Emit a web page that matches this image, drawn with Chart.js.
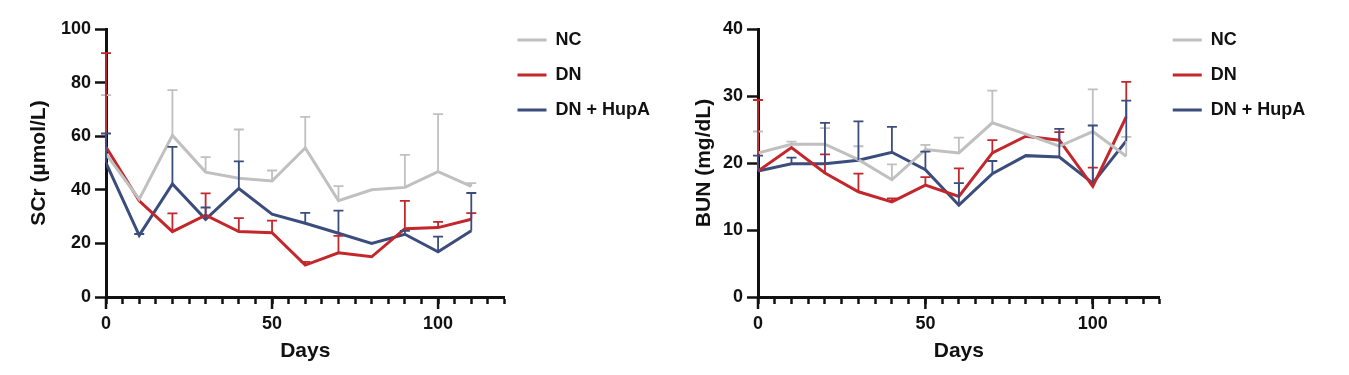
<!DOCTYPE html>
<html>
<head>
<meta charset="utf-8">
<script src="https://cdn.jsdelivr.net/npm/chart.js@4.4.1/dist/chart.umd.min.js"></script>
<style>
  html, body { margin: 0; padding: 0; background: #fff; }
  #wrap { position: relative; width: 1349px; height: 375px; }
  .box { position: absolute; top: 0; height: 375px; }
  #scrBox { left: 0; width: 680px; }
  #bunBox { left: 680px; width: 669px; }
</style>
</head>
<body>
<div id="wrap">
  <div class="box" id="scrBox"><canvas id="scrChart"></canvas></div>
  <div class="box" id="bunBox"><canvas id="bunChart"></canvas></div>
</div>
<script>
const days = [0, 10, 20, 30, 40, 50, 60, 70, 80, 90, 100, 110];
const majorDays = [0, 50, 100];
const groups = ['NC', 'DN', 'DN + HupA'];
const colors = ['#c0c0c0', '#c3272c', '#3b4d7d'];

// SCr (µmol/L): mean and upper error
const scrNC = [53.4, 36.5, 60.3, 46.6, 44.3, 43.3, 55.6, 35.9, 40, 40.9, 46.8, 41.3];
const scrNCerr = [21.9, 0, 16.9, 5.6, 18.2, 3.9, 11.6, 5.5, 0, 12.1, 21.4, 1.2];
const scrDN = [56, 35.9, 24.4, 30.5, 24.4, 24, 11.9, 16.5, 15, 25.5, 25.9, 29];
const scrDNerr = [35, 0, 6.8, 8.2, 5, 4.5, 1.2, 6.3, 0, 10.4, 2.1, 2.3];
const scrHup = [50, 23, 42.2, 29, 40.5, 30.9, 27.5, 23.8, 20, 23.4, 16.9, 24.7];
const scrHupErr = [11, 0.5, 13.8, 4.4, 10.1, 0, 3.9, 8.4, 0, 1.3, 5.6, 14.1];

// BUN (mg/dL): mean and upper error
const bunNC = [21.5, 22.8, 22.8, 20.5, 17.5, 22, 21.5, 26, 24.3, 22.5, 24.7, 21];
const bunNCerr = [3.2, 0.4, 2.4, 2, 2.3, 0.7, 2.3, 4.8, 0, 0, 6.3, 2.9];
const bunDN = [18.8, 22.3, 18.5, 15.7, 14.2, 16.7, 15, 21.5, 24, 23.4, 16.5, 26.9];
const bunDNerr = [10.6, 0, 2.8, 2.7, 0.5, 1.2, 4.2, 1.9, 0, 1.2, 2.8, 5.2];
const bunHup = [18.8, 19.9, 19.9, 20.4, 21.6, 19, 13.7, 18.4, 21.1, 20.9, 17, 23.3];
const bunHupErr = [2.3, 0.9, 6.1, 5.8, 3.8, 2.7, 3.3, 1.9, 0, 4.2, 8.6, 6];

Chart.defaults.font.family = "'Liberation Sans', Arial, sans-serif";
Chart.defaults.color = '#111';

// upper error bars with caps
const errorBars = {
  id: 'errorBars',
  afterDatasetsDraw(chart) {
    const ctx = chart.ctx;
    const y = chart.scales.y;
    chart.data.datasets.forEach((ds, i) => {
      const meta = chart.getDatasetMeta(i);
      ctx.save();
      ctx.strokeStyle = ds.borderColor;
      ctx.lineWidth = 1.8;
      meta.data.forEach((pt, j) => {
        const err = ds.errors[j];
        if (!err) return;
        const top = y.getPixelForValue(ds.data[j].y + err);
        ctx.beginPath();
        ctx.moveTo(pt.x, pt.y);
        ctx.lineTo(pt.x, top);
        ctx.moveTo(pt.x - 5, top);
        ctx.lineTo(pt.x + 5, top);
        ctx.stroke();
      });
      ctx.restore();
    });
  }
};

// longer ticks at labelled days
const majorTicks = {
  id: 'majorTicks',
  afterDraw(chart) {
    const {ctx, chartArea, scales: {x}} = chart;
    ctx.save();
    ctx.strokeStyle = '#111';
    ctx.lineWidth = 2.5;
    majorDays.forEach(d => {
      const px = x.getPixelForValue(d);
      ctx.beginPath();
      ctx.moveTo(px, chartArea.bottom);
      ctx.lineTo(px, chartArea.bottom + 12);
      ctx.stroke();
    });
    ctx.restore();
  }
};

// pull the legend up beside the top of the plot
const legendNudge = {
  id: 'legendNudge',
  afterLayout(chart) {
    const l = chart.legend;
    l.top -= 15; l.bottom -= 15;
    l.left -= 4; l.right -= 4;
  }
};

function makeChart(id, series, errs, yMax, yStep, yTitle, yWidth, pad) {
  return new Chart(document.getElementById(id), {
    type: 'line',
    data: {
      datasets: groups.map((g, i) => ({
        label: g,
        data: days.map((d, j) => ({x: d, y: series[i][j]})),
        errors: errs[i],
        borderColor: colors[i],
        backgroundColor: colors[i],
        borderWidth: 3,
        pointRadius: 0,
        tension: 0,
        fill: false
      }))
    },
    options: {
      responsive: true,
      maintainAspectRatio: false,
      animation: false,
      layout: { padding: pad },
      plugins: {
        legend: {
          position: 'right',
          align: 'start',
          labels: {
            usePointStyle: true,
            pointStyle: 'line',
            pointStyleWidth: 29,
            padding: 17,
            color: '#111',
            font: { size: 18, weight: 'bold' }
          }
        },
        tooltip: { enabled: false }
      },
      scales: {
        x: {
          type: 'linear',
          min: 0,
          max: 120,
          afterFit: s => { s.height = 71; },
          border: { color: '#111', width: 3 },
          grid: { drawOnChartArea: false, tickLength: 7, tickWidth: 2.5, tickColor: '#111' },
          ticks: {
            stepSize: 5,
            autoSkip: false,
            maxRotation: 0,
            padding: 9,
            color: '#111',
            font: { size: 18, weight: 'bold' },
            callback: v => majorDays.includes(v) ? v : ''
          },
          title: { display: true, text: 'Days', color: '#111', font: { size: 21, weight: 'bold' }, padding: { top: 4, bottom: 4 } }
        },
        y: {
          min: 0,
          max: yMax,
          afterFit: s => { s.width = yWidth; },
          border: { color: '#111', width: 3 },
          grid: { drawOnChartArea: false, tickLength: 11, tickWidth: 2.5, tickColor: '#111' },
          ticks: { stepSize: yStep, padding: 4, color: '#111', font: { size: 18, weight: 'bold' } },
          title: { display: true, text: yTitle, color: '#111', font: { size: 21, weight: 'bold' }, padding: { top: 4, bottom: 4 } }
        }
      }
    },
    plugins: [errorBars, majorTicks, legendNudge]
  });
}

makeChart('scrChart', [scrNC, scrDN, scrHup], [scrNCerr, scrDNerr, scrHupErr],
  100, 20, 'SCr (µmol/L)', 83, { left: 23, top: 29, right: 16, bottom: 7 });
makeChart('bunChart', [bunNC, bunDN, bunHup], [bunNCerr, bunDNerr, bunHupErr],
  40, 10, 'BUN (mg/dL)', 70, { left: 8, top: 29, right: 32, bottom: 7 });
</script>
</body>
</html>
